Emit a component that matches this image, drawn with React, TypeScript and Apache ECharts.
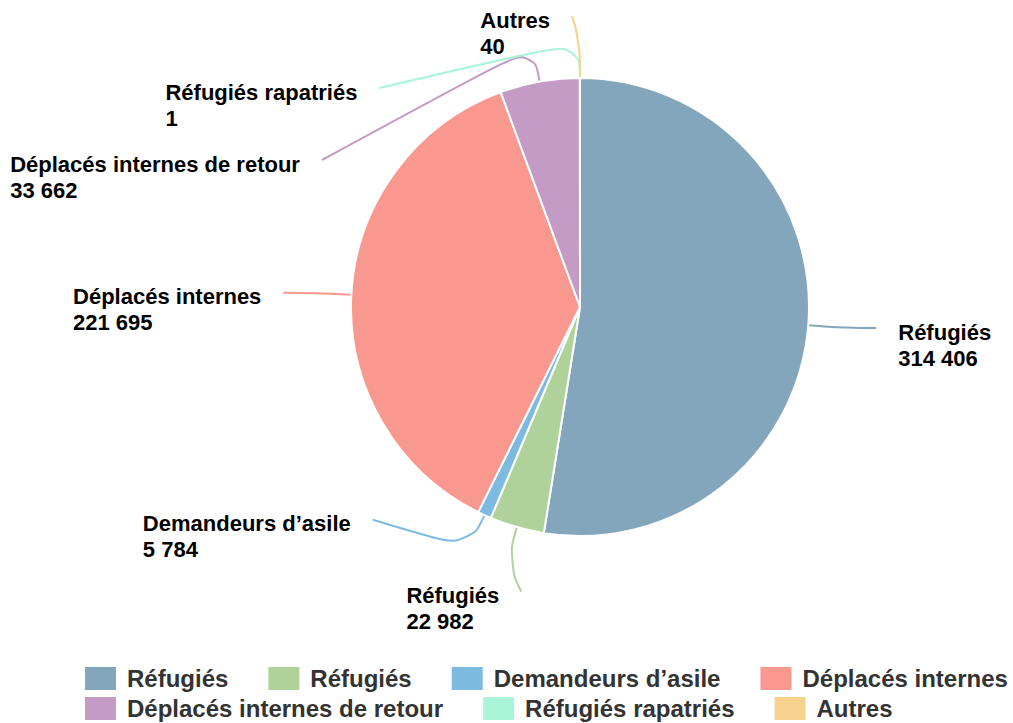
import React, { useEffect, useRef } from 'react';
import * as echarts from 'echarts';

const categories = [
  'Réfugiés',
  'Réfugiés',
  'Demandeurs d’asile',
  'Déplacés internes',
  'Déplacés internes de retour',
  'Réfugiés rapatriés',
  'Autres',
];
const values = [314406, 22982, 5784, 221695, 33662, 1, 40];
const colors = ['#84A6BD', '#AFD29B', '#7DBAE0', '#F9988E', '#C49BC5', '#AAF5D7', '#F8D28C'];

const keys = categories.map((_, i) => 'k' + i);
const FONT = '"Liberation Sans", Arial, Helvetica, sans-serif';

// pie geometry (shared by the series and the label layout)
const CX = 580;
const CY = 307;
const R = 229;
const LEN1 = 37;
const LEN2 = 31;
const LABEL_GAP = 22; // text to end of label line
const LABEL_H = 72; // vertical space reserved per label
const LABEL_TOP = 9; // label box top above the line end
const MIN_Y = 16;
const MAX_Y = 615;

function fmt(v: number): string {
  return String(v).replace(/\B(?=(\d{3})+(?!\d))/g, ' ');
}

type Pt = [number, number];
interface LabelGeo {
  left: boolean;
  angle: number;
  p0: Pt;
  p1: Pt;
  y0: number;
  y: number;
  p2: Pt;
}

function computeLabelLayout(): LabelGeo[] {
  const total = values.reduce((a, b) => a + b, 0);
  let acc = 0;
  const geo: LabelGeo[] = values.map((v) => {
    const mid = ((acc + v / 2) / total) * Math.PI * 2;
    acc += v;
    const dx = Math.sin(mid);
    const dy = -Math.cos(mid);
    const p0: Pt = [CX + R * dx, CY + R * dy];
    const p1: Pt = [CX + (R + LEN1) * dx, CY + (R + LEN1) * dy];
    return { left: dx < 0, angle: mid, p0, p1, y0: p1[1], y: p1[1], p2: [0, 0] };
  });

  [true, false].forEach((side) => {
    const list = geo
      .filter((g) => g.left === side)
      .sort((a, b) => a.y0 - b.y0 || (side ? b.angle - a.angle : a.angle - b.angle));
    // clusters of overlapping labels, centred on their natural positions
    let clusters: LabelGeo[][] = list.map((g) => [g]);
    const place = (c: LabelGeo[]) => {
      const mean = c.reduce((s, g) => s + g.y0, 0) / c.length;
      c.forEach((g, k) => (g.y = mean + (k - (c.length - 1) / 2) * LABEL_H));
    };
    clusters.forEach(place);
    let merged = true;
    while (merged) {
      merged = false;
      for (let i = 0; i + 1 < clusters.length; i++) {
        const a = clusters[i];
        const b = clusters[i + 1];
        if (a[a.length - 1].y + LABEL_H > b[0].y) {
          const c = a.concat(b);
          place(c);
          clusters.splice(i, 2, c);
          merged = true;
          break;
        }
      }
    }
    // keep inside the drawing area
    let prev = MIN_Y - LABEL_H;
    list.forEach((g) => {
      if (g.y < prev + LABEL_H) g.y = prev + LABEL_H;
      prev = g.y;
    });
    let next = MAX_Y + LABEL_H;
    for (let i = list.length - 1; i >= 0; i--) {
      const g = list[i];
      if (g.y > next - LABEL_H) g.y = next - LABEL_H;
      next = g.y;
    }
    // x on an ellipse around the pie
    const rOuter = R + LEN1 + LEN2;
    list.forEach((g) => {
      const dy = Math.abs(g.y - CY);
      let dx: number;
      if (dy < R + LEN1) dx = Math.sqrt(rOuter * rOuter - dy * dy);
      else dx = Math.max(Math.abs(g.p1[0] - CX) * 0.8, 8);
      g.p2 = [CX + (side ? -dx : dx), g.y];
    });
  });
  return geo;
}

export default function App() {
  const ref = useRef<HTMLDivElement>(null);
  useEffect(() => {
    document.body.style.margin = '0';
    const chart = echarts.init(ref.current!, undefined, { renderer: 'svg' });
    const geo = computeLabelLayout();
    const textStyle = {
      align: 'left',
      fontSize: 22,
      fontWeight: 'bold',
      lineHeight: 26,
      color: '#000',
      fontFamily: FONT,
    };
    chart.setOption({
      animation: false,
      color: colors,
      legend: {
        left: 78,
        top: 660,
        width: 1000,
        itemWidth: 33,
        itemHeight: 25,
        itemGap: 3,
        icon: 'rect',
        data: keys,
        formatter: (name: string) => categories[keys.indexOf(name)],
        textStyle: {
          fontSize: 24,
          fontWeight: 'bold',
          color: '#333',
          fontFamily: FONT,
          lineHeight: 25,
          padding: [0, 35, 0, 5],
        },
      },
      series: [
        {
          type: 'pie',
          center: [CX, CY],
          radius: R,
          startAngle: 90,
          clockwise: true,
          avoidLabelOverlap: false,
          itemStyle: { borderColor: '#fff', borderWidth: 2 },
          label: {
            show: true,
            formatter: (p: any) => `{n|${categories[p.dataIndex]}}\n{v|${fmt(p.value)}}`,
            rich: { n: textStyle, v: textStyle },
          },
          labelLine: { show: true, length: LEN1, length2: LEN2, smooth: 0.5, lineStyle: { width: 2 } },
          labelLayout: (params: any) => {
            const g = geo[params.dataIndex];
            return {
              x: g.left ? g.p2[0] - LABEL_GAP : g.p2[0] + LABEL_GAP,
              y: g.p2[1] - LABEL_TOP,
              align: g.left ? 'right' : 'left',
              verticalAlign: 'top',
              labelLinePoints: [g.p0, g.p1, g.p2],
            };
          },
          data: keys.map((k, i) => ({ name: k, value: values[i] })),
        },
      ],
    });
    return () => chart.dispose();
  }, []);
  return <div ref={ref} style={{ width: 1013, height: 723 }} />;
}
